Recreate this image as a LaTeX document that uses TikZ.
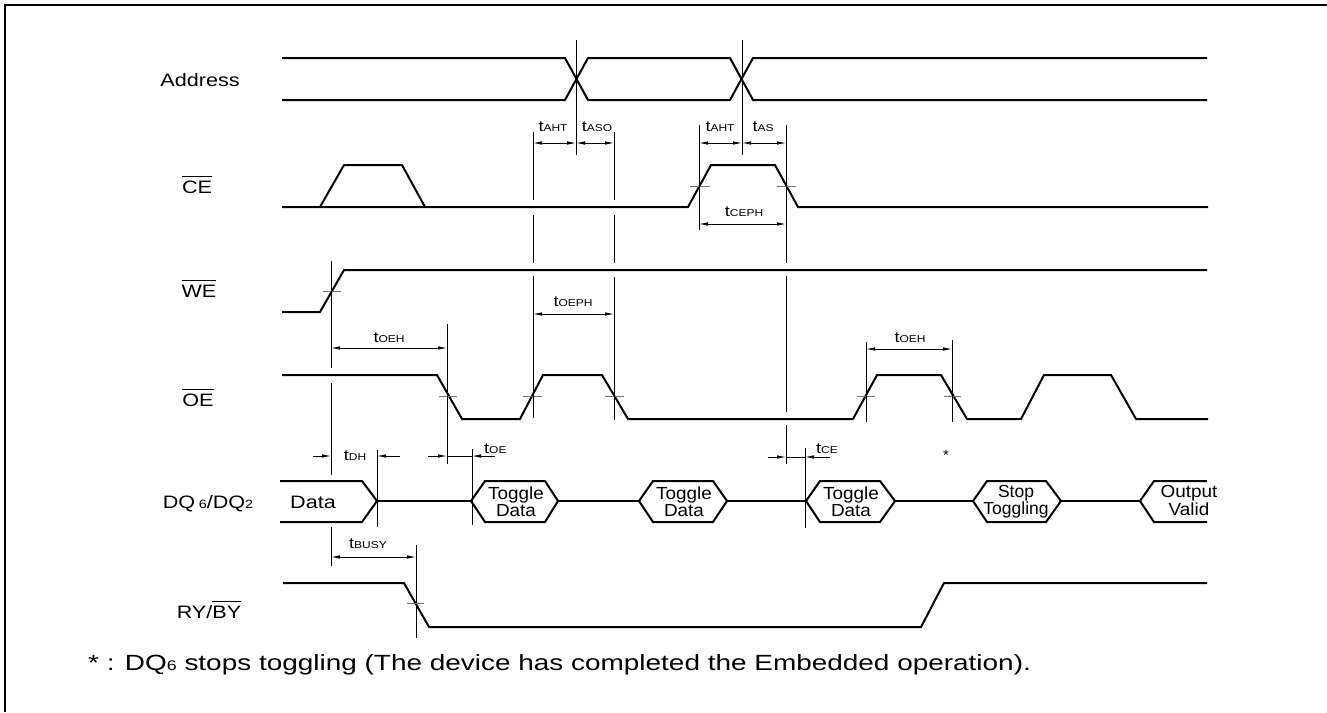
\documentclass[tikz,border=0pt]{standalone}
\usepackage{fontspec}
\setmainfont{Liberation Sans}
\usetikzlibrary{arrows.meta}
\newcommand{\sx}[2][1.2]{\scalebox{#1}[1]{#2}}
\newcommand{\ovl}[1]{\leavevmode\vbox{\hrule height 1pt\kern 3.6pt\hbox{#1}}}
\newcommand{\tsub}[2]{\sx{t{\fontsize{10}{10}\selectfont #1}}}
\begin{document}
\begin{tikzpicture}[x=1pt,y=-1pt,
  sig/.style={line width=2pt, line join=miter},
  guide/.style={line width=0.9pt},
  tickm/.style={line width=0.9pt, draw=black!55},
  dim/.style={line width=0.8pt},
  >={Latex[length=9pt,width=3.5pt]},
  lab/.style={inner sep=0pt, anchor=base, font=\fontsize{18}{20}\selectfont},
  tlab/.style={inner sep=0pt, anchor=base, font=\fontsize{15}{15}\selectfont},
  boxt/.style={inner sep=0pt, anchor=base, font=\fontsize{17.5}{17}\selectfont},
  frame/.style={line width=1.2pt}]
\useasboundingbox (0,0) rectangle (1327,712);
% frame
\draw[frame] (5,712) -- (5,5) -- (1327,5);

% ---------- signal names ----------
\node[lab] (nAddr) at (200,86) {\sx{Address}};
\node[lab] (nCE) at (197,193) {\sx{\ovl{CE}}};
\node[lab] (nWE) at (199,297) {\sx{\ovl{WE}}};
\node[lab] (nOE) at (198,406) {\sx{\ovl{OE}}};
\node[lab] (nDQ) at (208,508) {\sx{DQ\,{\fontsize{12}{12}\selectfont 6}/DQ{\fontsize{12}{12}\selectfont 2}}};
\node[lab] (nRY) at (209,618) {\sx{RY/\ovl{BY}}};

% ---------- Address ----------
\draw[sig] (282,58) -- (565,58) -- (588,100) -- (730,100) -- (753,58) -- (1207,58);
\draw[sig] (282,100) -- (565,100) -- (588,58) -- (730,58) -- (753,100) -- (1207,100);
\draw[guide] (576,40) -- (576,155);
\draw[guide] (742,40) -- (742,155);

% ---------- CE ----------
\draw[sig] (282,207) -- (688,207) -- (711,165) -- (775,165) -- (798,207) -- (1208,207);
\draw[sig] (320,207) -- (344,165) -- (402,165) -- (425,207);
\draw[tickm] (690,186) -- (710,186);
\draw[tickm] (777,186) -- (796,186);

% ---------- WE ----------
\draw[sig] (282,312) -- (320,312) -- (344,270) -- (1207,270);
\draw[tickm] (323,291) -- (341,291);

% ---------- OE ----------
\draw[sig] (282,375) -- (437,375) -- (462,419) -- (520,419) -- (543,375) -- (602,375) -- (628,419)
  -- (853,419) -- (877,375) -- (941,375) -- (967,419) -- (1021,419) -- (1044,375) -- (1111,375)
  -- (1136,419) -- (1208,419);
\draw[tickm] (439,396) -- (457,396);
\draw[tickm] (523,396) -- (542,396);
\draw[tickm] (605,396) -- (624,396);
\draw[tickm] (857,396) -- (875,396);
\draw[tickm] (944,396) -- (961,396);

% ---------- guide lines ----------
\draw[guide] (533,132) -- (533,200) (533,215) -- (533,263) (533,276) -- (533,418);
\draw[guide] (614,132) -- (614,200) (614,215) -- (614,263) (614,277) -- (614,420);
\draw[guide] (699,125) -- (699,230);
\draw[guide] (786,125) -- (786,263) (786,276) -- (786,412) (786,425) -- (786,464);
\draw[guide] (331,261) -- (331,368) (331,383) -- (331,475) (331,527) -- (331,566);
\draw[guide] (447,324) -- (447,464);
\draw[guide] (866,342) -- (866,422);
\draw[guide] (952,340) -- (952,422);
\draw[guide] (377,450) -- (377,527);
\draw[guide] (472,449) -- (472,525);
\draw[guide] (805,448) -- (805,528);
\draw[guide] (416,545) -- (416,638);

% ---------- timing arrows ----------
\coordinate (a1) at (533,143); \coordinate (a2) at (576,143); \coordinate (a3) at (614,143);
\coordinate (b1) at (699,143); \coordinate (b2) at (742,143); \coordinate (b3) at (786,143);
\draw[dim,<->] (a1) -- (a2);
\draw[dim,<->] (a2) -- (a3);
\draw[dim,<->] (b1) -- (b2);
\draw[dim,<->] (b2) -- (b3);
\coordinate (c1) at (699,224); \coordinate (c2) at (786,224);
\draw[dim,<->] (c1) -- (c2);
\coordinate (e1) at (533,314); \coordinate (e2) at (614,314);
\draw[dim,<->] (e1) -- (e2);
\coordinate (h1) at (331,348); \coordinate (h2) at (447,348);
\draw[dim,<->] (h1) -- (h2);
\coordinate (k1) at (866,349); \coordinate (k2) at (952,349);
\draw[dim,<->] (k1) -- (k2);
% tDH
\coordinate (d0) at (313,456); \coordinate (d1) at (331,456);
\coordinate (d2) at (377,456); \coordinate (d3) at (400,456);
\draw[dim,->] (d0) -- (d1);
\draw[dim,->] (d3) -- (d2);
% tOE
\coordinate (o0) at (428,456); \coordinate (o1) at (447,456);
\coordinate (o2) at (472,456); \coordinate (o3) at (495,456);
\draw[dim,->] (o0) -- (o1);
\draw[dim] (o1) -- (o2);
\draw[dim,->] (o3) -- (o2);
% tCE
\coordinate (q0) at (768,457); \coordinate (q1) at (786,457);
\coordinate (q2) at (805,457); \coordinate (q3) at (830,457);
\draw[dim,->] (q0) -- (q1);
\draw[dim] (q1) -- (q2);
\draw[dim,->] (q3) -- (q2);
% tBUSY
\coordinate (u1) at (331,557); \coordinate (u2) at (416,557);
\draw[dim,<->] (u1) -- (u2);

% ---------- timing labels ----------
\node[tlab] (tA1) at (553,131) {\tsub{AHT}{}};
\node[tlab] (tA2) at (597,131) {\tsub{ASO}{}};
\node[tlab] (tA3) at (720,131) {\tsub{AHT}{}};
\node[tlab] (tA4) at (763,131) {\tsub{AS}{}};
\node[tlab] (tCP) at (744,216) {\tsub{CEPH}{}};
\node[tlab] (tOP) at (573,306) {\tsub{OEPH}{}};
\node[tlab] (tOH1) at (389,342) {\tsub{OEH}{}};
\node[tlab] (tOH2) at (910,342) {\tsub{OEH}{}};
\node[tlab] (tDH) at (355,460) {\tsub{DH}{}};
\node[tlab, anchor=base west] (tOE) at (484,453) {\tsub{OE}{}};
\node[tlab, anchor=base west] (tCE) at (816,453) {\tsub{CE}{}};
\node[tlab] (tBU) at (368,548) {\tsub{BUSY}{}};
\node[tlab] (star) at (946,460) {*};

% ---------- DQ ----------
\draw[sig] (280,481) -- (362,481) -- (377,501) -- (362,522) -- (280,522);
\node[lab] (tData) at (313,508) {\sx{Data}};
\draw[sig] (377,501) -- (471,501);
\draw[sig] (471,501) -- (485,481) -- (545,481) -- (558,501) -- (545,522) -- (485,522) -- cycle;
\draw[sig] (558,501) -- (639,501);
\draw[sig] (639,501) -- (653,481) -- (713,481) -- (727,501) -- (713,522) -- (653,522) -- cycle;
\draw[sig] (727,501) -- (806,501);
\draw[sig] (806,501) -- (820,481) -- (880,481) -- (895,501) -- (880,522) -- (820,522) -- cycle;
\draw[sig] (895,501) -- (973,501);
\draw[sig] (973,501) -- (987,481) -- (1046,481) -- (1061,501) -- (1046,522) -- (987,522) -- cycle;
\draw[sig] (1061,501) -- (1140,501);
\draw[sig] (1207,481) -- (1154,481) -- (1140,501) -- (1154,522) -- (1207,522);

\node[boxt] (g1a) at (516,499) {\sx[1.08]{Toggle}};
\node[boxt] (g1b) at (516,516) {\sx[1.08]{Data}};
\node[boxt] (g2a) at (684,499) {\sx[1.08]{Toggle}};
\node[boxt] (g2b) at (684,516) {\sx[1.08]{Data}};
\node[boxt] (g3a) at (851,499) {\sx[1.08]{Toggle}};
\node[boxt] (g3b) at (851,516) {\sx[1.08]{Data}};
\node[boxt] (s1) at (1016,497) {\sx[1.0]{Stop}};
\node[boxt] (s2) at (1016,514) {\sx[1.0]{Toggling}};
\node[boxt] (v1) at (1189,497) {\sx[1.08]{Output}};
\node[boxt] (v2) at (1189,515) {\sx[1.08]{Valid}};

% ---------- RY/BY ----------
\draw[sig] (283,583) -- (404,583) -- (429,627) -- (921,627) -- (944,583) -- (1207,583);
\draw[tickm] (407,603) -- (424,603);

% ---------- footnote ----------
\node[lab, anchor=base west, font=\fontsize{22}{24}\selectfont] (foot) at (88,670)
  {\sx[1.27]{* : DQ{\fontsize{14}{14}\selectfont 6} stops toggling (The device has completed the Embedded operation).}};
\end{tikzpicture}
\end{document}
